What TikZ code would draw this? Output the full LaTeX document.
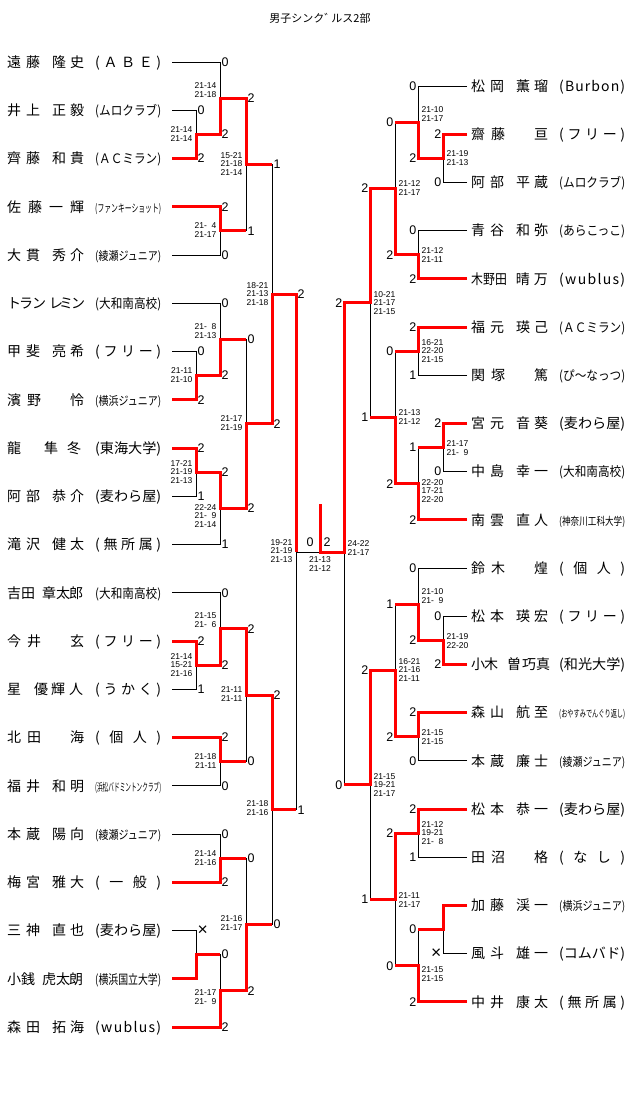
\documentclass[tikz,border=0pt]{standalone}
\usepackage{fontspec}
\usepackage{graphicx}
\setmainfont{Noto Sans CJK JP}
\newfontfamily\latf{Liberation Sans}
\usetikzlibrary{calc}
\definecolor{wred}{RGB}{255,0,0}
\newcommand\zs{\hphantom{0}}
\newcommand\xx{\scalebox{1.4}{×}}
\newcommand\nmd[4]{#1\kern5pt#2\kern12pt#3\kern4pt#4}
\newcommand\nmt[3]{#1\kern6pt#2\kern29pt#3}
\newcommand\tms[1]{\makebox[66pt][s]{#1}}
\newcommand\tmc[2][13pt]{\resizebox{66pt}{\height}{\fontsize{#1}{#1}\selectfont#2}}
\newcommand\plyL[3]{\node[nm] (nl#1) at (7,{67.3+48.25*#1}) {#2};\node[nm] (tl#1) at (95,{67.3+48.25*#1}) {#3};}
\newcommand\plyR[3]{\node[nm] (nr#1) at (471,{91.3+48.2*#1}) {#2};\node[nm] (tr#1) at (559,{91.3+48.2*#1}) {#3};}
\newcommand\gL[4]{\node[glL] (#1) at (#2,#3) {#4};}
\newcommand\gR[4]{\node[glR] (#1) at (#2,#3) {#4};}
\begin{document}
\begin{tikzpicture}[x=1pt,y=-1pt,
  line/.style={black, line width=0.9pt},
  win/.style={wred, line width=3pt},
  nm/.style={anchor=base west, inner sep=0pt, font=\fontsize{14pt}{14pt}\selectfont},
  scL/.style={anchor=west, inner sep=0pt, xshift=1.5pt, font=\latf\fontsize{12.5pt}{12.5pt}\selectfont},
  scR/.style={anchor=east, inner sep=0pt, xshift=-1.5pt, font=\latf\fontsize{12.5pt}{12.5pt}\selectfont},
  scC/.style={anchor=center, inner sep=0pt, font=\latf\fontsize{12.5pt}{12.5pt}\selectfont},
  glL/.style={anchor=east, inner sep=0pt, xshift=-3.5pt, align=right, font=\latf\fontsize{8.5pt}{8.4pt}\selectfont},
  glR/.style={anchor=west, inner sep=0pt, xshift=3.5pt, align=left, font=\latf\fontsize{8.5pt}{8.4pt}\selectfont},
  glC/.style={anchor=center, inner sep=0pt, align=center, font=\latf\fontsize{8.5pt}{8.4pt}\selectfont}]
\fill[white] (0,0) rectangle (640,1105);
\useasboundingbox (0,0) rectangle (640,1105);

\node[font=\fontsize{11pt}{11pt}\selectfont, inner sep=0pt] (title) at (320,18) {男子シンク゛\kern-4pt ルス2部};

% player line starts
\foreach \i in {0,...,20} \coordinate (L\i) at (172,{62+48.25*\i});
\foreach \j in {0,...,19} \coordinate (R\j) at (467,{86+48.2*\j});

% left matches
\coordinate (mA) at (196,134.4);
\coordinate (mB) at (220,98.2);
\coordinate (mC) at (220,230.9);
\coordinate (mD) at (246,164.5);
\coordinate (mE) at (196,375.6);
\coordinate (mF) at (220,339.4);
\coordinate (mG) at (196,472.1);
\coordinate (mH) at (220,508.3);
\coordinate (mI) at (246,423.9);
\coordinate (mJ) at (272,294.2);
\coordinate (mK) at (196,665.1);
\coordinate (mL) at (220,628.9);
\coordinate (mM) at (220,761.6);
\coordinate (mN) at (246,695.3);
\coordinate (mO) at (220,858.1);
\coordinate (mP) at (196,954.6);
\coordinate (mQ) at (220,990.8);
\coordinate (mR) at (246,924.5);
\coordinate (mS) at (272,809.9);
\coordinate (mT) at (296,552);
% right matches
\coordinate (ma) at (443,158.3);
\coordinate (mb) at (418,122.2);
\coordinate (mc) at (418,254.7);
\coordinate (md) at (395,188.4);
\coordinate (me) at (418,351.1);
\coordinate (mf) at (443,447.5);
\coordinate (mg) at (418,483.7);
\coordinate (mh) at (395,417.4);
\coordinate (mi) at (370,302.9);
\coordinate (mj) at (443,640.3);
\coordinate (mk) at (418,604.2);
\coordinate (ml) at (418,736.7);
\coordinate (mm) at (395,670.4);
\coordinate (mn) at (418,833.1);
\coordinate (mo) at (443,929.5);
\coordinate (mp) at (418,965.7);
\coordinate (mq) at (395,899.4);
\coordinate (mr) at (370,784.9);
\coordinate (mU) at (344,552);
\coordinate (fin) at (320,552);
\coordinate (champ) at (320,504);

% black bracket
\foreach \a/\b in {L0/mB,L1/mA,L2/mA,mA/mB,mB/mD,L3/mC,L4/mC,mC/mD,mD/mJ,
  L5/mF,L6/mE,L7/mE,mE/mF,mF/mI,L8/mG,L9/mG,mG/mH,L10/mH,mH/mI,mI/mJ,mJ/mT,
  L11/mL,L12/mK,L13/mK,mK/mL,mL/mN,L14/mM,L15/mM,mM/mN,mN/mS,
  L16/mO,L17/mO,mO/mR,L18/mP,L19/mP,mP/mQ,L20/mQ,mQ/mR,mR/mS,mS/mT,
  R0/mb,R1/ma,R2/ma,ma/mb,mb/md,R3/mc,R4/mc,mc/md,md/mi,
  R5/me,R6/me,me/mh,R7/mf,R8/mf,mf/mg,R9/mg,mg/mh,mh/mi,mi/mU,
  R10/mk,R11/mj,R12/mj,mj/mk,mk/mm,R13/ml,R14/ml,ml/mm,mm/mr,
  R15/mn,R16/mn,mn/mq,R17/mo,R18/mo,mo/mp,R19/mp,mp/mq,mq/mr,mr/mU}
  \draw[line] (\a) -| (\b);
\draw[line] (mT) -- (mU);

% winners (red)
\draw[win] (L2) -| (mA) -| (mB) -| (mD) -- (mD -| mJ);
\draw[win] (L3) -| (mC) -- (mC -| mD);
\draw[win] (L7) -| (mE) -| (mF) -- (mF -| mI);
\draw[win] (L8) -| (mG) -| (mH) -| (mI) -| (mJ) -| (mT);
\draw[win] (L12) -| (mK) -| (mL) -| (mN) -| (mS) -- (mS -| mT);
\draw[win] (L14) -| (mM) -- (mM -| mN);
\draw[win] (L17) -| (mO) -- (mO -| mR);
\draw[win] (L19) -| (mP) -- (mP -| mQ);
\draw[win] (L20) -| (mQ) -| (mR) -- (mR -| mS);
\draw[win] (R1) -| (ma) -| (mb) -- (mb -| md);
\draw[win] (R4) -| (mc) -| (md) -| (mi) -| (mU) -- (fin) -- (champ);
\draw[win] (R5) -| (me) -- (me -| mh);
\draw[win] (R7) -| (mf) -- (mf -| mg);
\draw[win] (R9) -| (mg) -| (mh) -- (mh -| mi);
\draw[win] (R12) -| (mj) -| (mk) -- (mk -| mm);
\draw[win] (R13) -| (ml) -| (mm) -| (mr) -- (mr -| mU);
\draw[win] (R15) -| (mn) -| (mq) -- (mq -| mr);
\draw[win] (R17) -| (mo) -- (mo -| mp);
\draw[win] (R19) -| (mp) -- (mp -| mq);

% match scores
\foreach \x/\y/\t [count=\k] in {196/110.25/0,196/158.5/2,220/62/0,220/134.4/2,
  220/206.75/2,220/255/0,246/98.2/2,246/230.9/1,196/351.5/0,196/399.75/2,
  220/303.25/0,220/375.6/2,196/448/2,196/496.25/1,220/472.1/2,220/544.5/1,
  246/339.4/0,246/508.3/2,272/164.5/1,272/423.9/2,196/641/2,196/689.25/1,
  220/592.75/0,220/665.1/2,220/737.5/2,220/785.75/0,246/628.9/2,246/761.6/0,
  220/834/0,220/882.25/2,196/930.5/\xx,220/954.6/0,220/1027/2,246/858.1/0,
  246/990.8/2,272/695.3/2,272/924.5/0,296/294.2/2,296/809.9/1}
  \node[scL] (dl\k) at (\x,\y) {\t};
\foreach \x/\y/\t [count=\k] in {443/134.2/2,443/182.4/0,418/86/0,418/158.3/2,
  418/230.6/0,418/278.8/2,395/122.2/0,395/254.7/2,418/327/2,418/375.2/1,
  443/423.4/2,443/471.6/0,418/447.5/1,418/519.8/2,395/351.1/0,395/483.7/2,
  370/188.4/2,370/417.4/1,443/616.2/0,443/664.4/2,418/568/0,418/640.3/2,
  418/712.6/2,418/760.8/0,395/604.2/1,395/736.7/2,418/809/2,418/857.2/1,
  443/953.6/\xx,418/929.5/0,418/1001.8/2,395/833.1/2,395/965.7/0,
  370/670.4/2,370/899.4/1,344/302.9/2,344/784.9/0}
  \node[scR] (dr\k) at (\x,\y) {\t};
\node[scC] (dfl) at (310,542) {0};
\node[scC] (dfr) at (327,542) {2};

% game scores, left
\gL{gA}{196}{134}{21-14\\21-14}
\gL{gB}{220}{90}{21-14\\21-18}
\gL{gC}{220}{230}{21-\zs4\\21-17}
\gL{gD}{246}{164}{15-21\\21-18\\21-14}
\gL{gE}{196}{375}{21-11\\21-10}
\gL{gF}{220}{331}{21-\zs8\\21-13}
\gL{gG}{196}{472}{17-21\\21-19\\21-13}
\gL{gH}{220}{516}{22-24\\21-\zs9\\21-14}
\gL{gI}{246}{423}{21-17\\21-19}
\gL{gJ}{272}{294}{18-21\\21-13\\21-18}
\gL{gK}{196}{665}{21-14\\15-21\\21-16}
\gL{gLL}{220}{620}{21-15\\21-\zs6}
\gL{gM}{220}{761}{21-18\\21-11}
\gL{gN}{246}{694}{21-11\\21-11}
\gL{gO}{220}{858}{21-14\\21-16}
\gL{gQ}{220}{997}{21-17\\21-\zs9}
\gL{gR}{246}{923}{21-16\\21-17}
\gL{gS}{272}{808}{21-18\\21-16}
\gL{gT}{296}{551}{19-21\\21-19\\21-13}
\node[glC] (gF0) at (320,564) {21-13\\21-12};
% game scores, right
\gR{ga}{443}{158}{21-19\\21-13}
\gR{gb}{418}{114}{21-10\\21-17}
\gR{gc}{418}{255}{21-12\\21-11}
\gR{gd}{395}{188}{21-12\\21-17}
\gR{ge}{418}{351}{16-21\\22-20\\21-15}
\gR{gf}{443}{448}{21-17\\21-\zs9}
\gR{gg}{418}{491}{22-20\\17-21\\22-20}
\gR{gh}{395}{417}{21-13\\21-12}
\gR{gi}{370}{303}{10-21\\21-17\\21-15}
\gR{gj}{443}{641}{21-19\\22-20}
\gR{gk}{418}{596}{21-10\\21-\zs9}
\gR{gl}{418}{737}{21-15\\21-15}
\gR{gm}{395}{670}{16-21\\21-16\\21-11}
\gR{gn}{418}{833}{21-12\\19-21\\21-\zs8}
\gR{gp}{418}{974}{21-15\\21-15}
\gR{gq}{395}{900}{21-11\\21-17}
\gR{gr}{370}{785}{21-15\\19-21\\21-17}
\gR{gu}{344}{548}{24-22\\21-17}

% players, left
\plyL{0}{\nmd{遠}{藤}{隆}{史}}{\tms{(\hfill Ａ\hfill Ｂ\hfill Ｅ\hfill)}}
\plyL{1}{\nmd{井}{上}{正}{毅}}{\tmc{(ムロクラブ)}}
\plyL{2}{\nmd{齊}{藤}{和}{貴}}{\tmc{(ＡＣミラン)}}
\plyL{3}{佐\kern7pt 藤\kern7pt 一\kern7pt 輝}{\tmc[11pt]{(ファンキーショット)}}
\plyL{4}{\nmd{大}{貫}{秀}{介}}{\tmc[12pt]{(綾瀬ジュニア)}}
\plyL{5}{ト\kern-2pt ラ\kern-1pt ン\kern3pt レ\kern-4pt ミ\kern-2pt ン}{\tmc{(大和南高校)}}
\plyL{6}{\nmd{甲}{斐}{亮}{希}}{\tms{(\hfill フ\hfill リ\hfill ー\hfill)}}
\plyL{7}{\nmt{濱}{野}{怜}}{\tmc[12pt]{(横浜ジュニア)}}
\plyL{8}{龍\kern23pt 隼\kern9pt 冬}{\tmc[14pt]{(東海大学)}}
\plyL{9}{\nmd{阿}{部}{恭}{介}}{\tmc[14pt]{(麦わら屋)}}
\plyL{10}{\nmd{滝}{沢}{健}{太}}{\tms{(\hfill 無\hfill 所\hfill 属\hfill)}}
\plyL{11}{吉田\kern7pt 章太\kern-1pt 郎}{\tmc{(大和南高校)}}
\plyL{12}{\nmt{今}{井}{玄}}{\tms{(\hfill フ\hfill リ\hfill ー\hfill)}}
\plyL{13}{星\kern13pt 優\kern3pt 輝\kern4pt 人}{\tms{(\hfill う\hfill か\hfill く\hfill)}}
\plyL{14}{\nmt{北}{田}{海}}{\tms{(\hfill 個\hfill 人\hfill)}}
\plyL{15}{\nmd{福}{井}{和}{明}}{\tmc[11pt]{(浜松バドミントンクラブ)}}
\plyL{16}{\nmd{本}{蔵}{陽}{向}}{\tmc[12pt]{(綾瀬ジュニア)}}
\plyL{17}{\nmd{梅}{宮}{雅}{大}}{\tms{(\hfill 一\hfill 般\hfill)}}
\plyL{18}{\nmd{三}{神}{直}{也}}{\tmc[14pt]{(麦わら屋)}}
\plyL{19}{小銭\kern7pt 虎太\kern-1pt 朗}{\tmc{(横浜国立大学)}}
\plyL{20}{\nmd{森}{田}{拓}{海}}{\tms{(\hfill w\hfill u\hfill b\hfill l\hfill u\hfill s\hfill)}}
% players, right
\plyR{0}{\nmd{松}{岡}{薫}{瑠}}{\tms{(\hfill B\hfill u\hfill r\hfill b\hfill o\hfill n\hfill)}}
\plyR{1}{\nmt{齋}{藤}{亘}}{\tms{(\hfill フ\hfill リ\hfill ー\hfill)}}
\plyR{2}{\nmd{阿}{部}{平}{蔵}}{\tmc{(ムロクラブ)}}
\plyR{3}{\nmd{青}{谷}{和}{弥}}{\tmc{(あらこっこ)}}
\plyR{4}{\scalebox{0.85}[1]{木野田}\kern9pt 晴\kern4pt 万}{\tms{(\hfill w\hfill u\hfill b\hfill l\hfill u\hfill s\hfill)}}
\plyR{5}{\nmd{福}{元}{瑛}{己}}{\tmc{(ＡＣミラン)}}
\plyR{6}{\nmt{関}{塚}{篤}}{\tmc{(ぴ～なっつ)}}
\plyR{7}{\nmd{宮}{元}{音}{葵}}{\tmc[14pt]{(麦わら屋)}}
\plyR{8}{\nmd{中}{島}{幸}{一}}{\tmc{(大和南高校)}}
\plyR{9}{\nmd{南}{雲}{直}{人}}{\tmc[11pt]{(神奈川工科大学)}}
\plyR{10}{\nmt{鈴}{木}{煌}}{\tms{(\hfill 個\hfill 人\hfill)}}
\plyR{11}{\nmd{松}{本}{瑛}{宏}}{\tms{(\hfill フ\hfill リ\hfill ー\hfill)}}
\plyR{12}{小\kern-1pt 木\kern9pt 曽\kern1pt 巧真}{\tmc[14pt]{(和光大学)}}
\plyR{13}{\nmd{森}{山}{航}{至}}{\tmc[10pt]{(おやすみでんぐり返し)}}
\plyR{14}{\nmd{本}{蔵}{廉}{士}}{\tmc[12pt]{(綾瀬ジュニア)}}
\plyR{15}{\nmd{松}{本}{恭}{一}}{\tmc[14pt]{(麦わら屋)}}
\plyR{16}{\nmt{田}{沼}{格}}{\tms{(\hfill な\hfill し\hfill)}}
\plyR{17}{\nmd{加}{藤}{渓}{一}}{\tmc[12pt]{(横浜ジュニア)}}
\plyR{18}{\nmd{風}{斗}{雄}{一}}{\tmc[14pt]{(コムバド)}}
\plyR{19}{\nmd{中}{井}{康}{太}}{\tms{(\hfill 無\hfill 所\hfill 属\hfill)}}
\end{tikzpicture}
\end{document}
